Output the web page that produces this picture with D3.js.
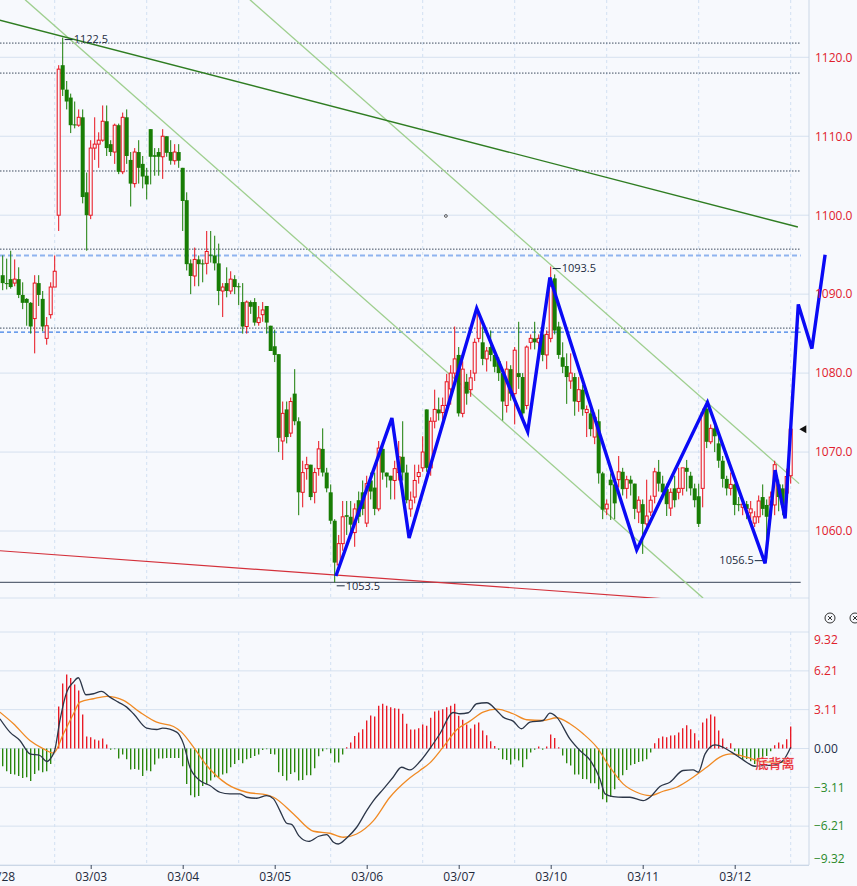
<!DOCTYPE html>
<html><head><meta charset="utf-8">
<script src="https://cdn.jsdelivr.net/npm/d3@7"></script>
<style>
body{margin:0;background:#f7f9fd;}
svg{display:block;font-family:"Open Sans",Roboto,sans-serif;}
</style>
</head><body>
<svg id="chart" width="857" height="886"></svg>
<script>
// ---------------- DATA ----------------
// candles: [open, high, low, close], one per bar index
const ohlc = [
[1092.4,1094.9,1090.5,1091.4],[1091.4,1094.5,1090.6,1091.3],[1091.9,1095.5,1090.7,1090.9],[1091.4,1094.4,1091.0,1091.9],
[1091.9,1093.4,1089.5,1089.9],[1089.9,1091.5,1088.1,1088.9],[1089.4,1089.5,1086.0,1088.9],[1088.9,1089.0,1085.0,1085.9],
[1086.9,1092.4,1082.5,1091.4],[1091.4,1092.4,1088.5,1089.9],[1089.4,1090.4,1085.3,1085.9],[1084.4,1087.1,1083.6,1086.0],
[1087.4,1091.5,1086.9,1090.9],[1090.9,1094.9,1090.9,1092.9],[1100.0,1119.0,1098.0,1118.5],[1119.0,1122.5,1115.1,1115.9],
[1115.9,1117.0,1113.4,1114.4],[1114.9,1115.4,1110.4,1111.4],[1111.5,1114.4,1111.0,1111.4],[1111.4,1113.4,1111.2,1112.4],
[1112.4,1113.4,1101.5,1102.3],[1102.9,1105.4,1095.5,1100.0],[1100.0,1109.5,1099.5,1108.5],[1108.5,1112.4,1107.0,1109.0],
[1109.0,1110.5,1106.0,1109.5],[1109.5,1113.9,1109.3,1111.9],[1111.9,1113.9,1107.5,1108.5],[1109.0,1109.5,1107.5,1108.0],
[1108.0,1111.6,1106.5,1111.4],[1111.4,1111.6,1105.2,1105.5],[1105.5,1113.0,1105.2,1112.4],[1112.4,1113.4,1106.5,1107.5],
[1107.0,1108.0,1101.1,1104.0],[1104.0,1108.5,1103.5,1108.0],[1108.0,1109.5,1104.0,1106.0],[1106.5,1107.5,1103.4,1104.9],
[1105.0,1106.0,1102.0,1103.9],[1110.9,1110.9,1103.9,1107.4],[1107.6,1108.5,1105.0,1107.4],[1108.0,1108.5,1105.0,1107.4],
[1107.4,1110.9,1104.6,1110.0],[1110.0,1110.0,1107.4,1107.9],[1108.0,1109.5,1106.4,1106.9],[1106.9,1109.0,1106.4,1108.0],
[1108.0,1109.0,1106.0,1106.9],[1106.0,1106.0,1098.0,1101.8],[1101.9,1102.9,1093.0,1093.8],[1093.9,1094.4,1090.0,1092.3],
[1092.3,1095.9,1091.0,1094.4],[1094.4,1094.9,1091.0,1093.8],[1093.9,1094.4,1091.5,1093.8],[1093.9,1098.0,1092.5,1095.4],
[1095.0,1098.0,1094.0,1094.9],[1094.9,1097.4,1093.0,1093.9],[1093.9,1096.4,1088.6,1090.4],[1090.4,1091.4,1087.1,1090.9],
[1091.4,1093.4,1089.6,1090.4],[1090.4,1092.9,1090.0,1091.9],[1091.9,1092.4,1090.0,1090.9],[1091.0,1091.4,1088.6,1090.9],
[1089.0,1091.4,1085.0,1085.9],[1085.9,1089.2,1085.0,1089.0],[1089.0,1089.2,1087.5,1088.4],[1089.0,1089.5,1086.0,1086.4],
[1086.4,1088.5,1086.0,1087.0],[1087.4,1089.0,1086.5,1088.0],[1088.5,1088.5,1085.0,1086.4],[1086.0,1086.0,1082.8,1082.8],
[1083.4,1085.5,1081.4,1082.3],[1082.4,1082.4,1070.0,1071.8],[1071.4,1076.4,1069.0,1074.9],[1075.4,1076.4,1071.1,1071.9],
[1072.4,1076.9,1071.9,1076.4],[1077.4,1080.5,1073.4,1073.9],[1073.9,1074.4,1062.0,1064.9],[1064.9,1068.9,1063.0,1067.4],
[1067.9,1069.4,1066.5,1068.4],[1068.4,1068.4,1063.9,1064.3],[1064.9,1068.0,1063.5,1067.4],[1067.9,1071.4,1067.0,1070.4],
[1070.4,1073.0,1066.9,1067.4],[1067.4,1068.0,1064.9,1065.4],[1064.9,1065.9,1060.9,1061.3],[1061.3,1061.5,1053.5,1056.0],
[1055.7,1059.5,1055.0,1058.4],[1058.4,1063.8,1057.5,1061.8],[1062.0,1063.8,1059.5,1061.8],[1061.8,1063.8,1059.0,1060.8],
[1059.8,1063.5,1058.0,1062.8],[1063.9,1065.0,1061.0,1061.8],[1064.9,1066.4,1062.0,1062.8],[1061.0,1067.0,1060.5,1066.0],
[1066.4,1067.4,1064.0,1065.0],[1065.5,1067.4,1062.0,1062.8],[1062.8,1071.4,1062.5,1070.5],[1070.4,1071.4,1066.5,1067.4],
[1067.4,1067.4,1065.5,1066.9],[1067.0,1067.0,1064.0,1066.4],[1066.4,1068.9,1064.0,1067.9],[1067.4,1071.4,1066.4,1069.4],
[1069.4,1073.9,1066.4,1067.4],[1067.4,1068.4,1063.5,1063.9],[1062.8,1065.0,1061.8,1063.9],[1064.3,1068.4,1063.5,1066.4],
[1066.9,1068.4,1066.0,1067.4],[1068.0,1072.0,1067.5,1070.0],[1075.4,1075.4,1067.5,1068.0],[1068.0,1074.4,1067.0,1073.9],
[1073.9,1077.9,1073.0,1075.4],[1075.4,1076.9,1074.0,1074.9],[1075.0,1076.9,1073.9,1075.9],[1075.9,1079.9,1075.4,1078.9],
[1078.0,1081.0,1076.0,1080.0],[1080.0,1085.9,1079.0,1081.8],[1082.3,1083.3,1074.5,1074.9],[1074.9,1081.5,1074.4,1080.5],
[1078.9,1079.9,1076.0,1077.4],[1077.9,1080.4,1077.0,1079.4],[1080.0,1084.4,1079.0,1083.9],[1084.4,1087.4,1083.9,1087.4],
[1083.9,1085.9,1081.0,1081.8],[1081.8,1083.3,1080.2,1082.8],[1083.3,1085.4,1081.5,1082.3],[1082.3,1082.3,1080.1,1080.8],
[1081.5,1082.0,1079.0,1080.0],[1080.0,1080.5,1074.0,1076.4],[1075.9,1081.5,1075.0,1080.5],[1080.5,1081.0,1076.5,1077.4],
[1077.4,1083.3,1073.5,1082.9],[1080.0,1086.5,1078.0,1079.5],[1079.5,1080.0,1073.9,1074.9],[1075.9,1083.5,1075.4,1083.3],
[1083.9,1084.9,1083.0,1084.4],[1084.4,1086.5,1083.0,1083.9],[1083.9,1084.9,1082.5,1084.4],[1084.9,1085.9,1081.5,1082.3],
[1082.3,1085.4,1080.5,1084.9],[1084.4,1093.5,1083.9,1091.0],[1092.0,1092.5,1084.9,1085.4],[1085.9,1086.5,1081.8,1082.3],
[1082.0,1083.9,1080.0,1080.8],[1080.9,1082.5,1076.1,1079.5],[1079.0,1082.5,1078.0,1080.0],[1079.5,1080.0,1074.6,1076.4],
[1076.4,1079.5,1075.1,1077.9],[1077.9,1078.5,1074.6,1075.4],[1075.0,1075.9,1071.9,1075.4],[1074.9,1075.4,1072.0,1072.9],
[1071.9,1075.0,1071.0,1074.4],[1073.9,1075.4,1066.0,1067.3],[1067.3,1067.5,1061.5,1062.7],[1062.8,1064.0,1062.0,1063.4],
[1066.5,1067.3,1061.4,1065.8],[1065.9,1066.5,1061.5,1063.5],[1066.5,1069.5,1065.5,1067.5],[1067.5,1068.0,1064.5,1065.3],
[1065.4,1067.0,1064.1,1066.5],[1066.5,1067.0,1064.5,1066.0],[1066.0,1066.0,1061.5,1062.8],[1062.4,1064.4,1061.0,1063.9],
[1063.4,1064.0,1057.1,1060.9],[1060.9,1066.5,1060.0,1061.9],[1062.4,1064.5,1061.9,1063.9],[1064.4,1068.0,1063.5,1067.5],
[1067.5,1069.0,1065.0,1066.0],[1066.0,1067.0,1064.0,1064.9],[1065.3,1066.0,1061.9,1063.4],[1062.9,1065.4,1061.9,1064.9],
[1065.4,1067.0,1063.0,1063.9],[1064.9,1068.0,1064.0,1065.4],[1065.4,1068.0,1064.5,1068.0],[1068.0,1069.0,1065.0,1067.5],
[1067.0,1067.5,1064.5,1065.4],[1065.4,1066.0,1063.0,1063.9],[1064.4,1066.0,1060.5,1060.9],[1065.4,1075.5,1063.0,1075.0],
[1075.5,1076.5,1070.5,1071.3],[1071.3,1073.5,1071.0,1073.0],[1073.0,1073.5,1070.0,1072.0],[1071.1,1072.1,1068.0,1068.9],
[1068.9,1069.5,1065.5,1066.6],[1066.6,1067.0,1064.5,1065.4],[1065.4,1067.4,1064.5,1065.9],[1065.9,1066.0,1062.0,1063.3],
[1063.4,1064.3,1062.5,1063.3],[1063.0,1064.0,1062.0,1063.4],[1063.4,1063.8,1061.5,1062.8],[1062.3,1063.8,1061.5,1062.8],
[1061.0,1062.5,1060.5,1061.8],[1061.8,1064.5,1061.0,1063.8],[1064.3,1065.9,1062.0,1062.8],[1063.3,1064.0,1056.5,1061.8],
[1063.3,1065.0,1061.5,1064.3],[1063.3,1068.9,1062.0,1068.4],[1065.9,1066.5,1062.5,1064.3],[1065.4,1065.9,1062.0,1063.3],
[1064.8,1067.9,1063.5,1066.9],[1067.0,1073.0,1066.0,1072.9]
];

// MACD histogram, one per bar
const macdHist = [
-1.42,-1.82,-2.03,-2.08,-2.2,-2.35,-2.3,-2.6,-2.03,-1.76,-1.9,-1.82,-1.23,
0.05,
3.37,5.2,5.93,5.64,5.13,4.65,2.72,0.96,0.91,0.72,0.64,0.8,0.32,
-0.1,-0.05,-0.8,-0.48,-0.85,-1.68,-1.63,-1.7,-2.19,-1.76,-1.82,-1.28,-0.8,-0.8,-0.75,-0.75,-0.75,-0.75,-1.42,
-2.83,-3.74,-3.9,-3.79,-2.99,-2.83,-2.56,-2.3,-2.3,-2.08,-1.98,-1.5,-1.23,-0.91,-1.18,-0.85,-0.75,-0.59,-0.48,-0.11,-0.05,
-0.43,-0.48,-1.9,-2.2,-2.56,-2.03,-1.9,-2.56,-2.51,-2.14,-2.14,-1.58,-0.61,-0.21,-0.05,-0.37,-1.12,-1.12,-0.48,
0.1,0.48,1.01,1.28,1.55,2.24,2.64,2.56,3.42,3.58,3.42,3.31,3.23,3.18,2.78,1.98,1.52,1.52,1.63,1.92,1.82,
2.46,2.96,3.04,3.15,3.31,3.42,3.58,2.62,2.3,1.92,1.6,1.92,2.08,1.44,1.07,0.59,0.21,
-0.1,-0.85,-0.91,-1.28,-0.85,-0.96,-1.5,-0.85,-0.32,-0.1,
0.16,-0.1,0.16,1.12,0.85,0.1,
-0.56,-1.18,-1.36,-2.08,-2.08,-2.43,-2.46,-2.78,-2.78,-3.26,-4.06,-4.3,-3.85,-3.26,-2.51,-2.14,-1.71,-1.34,-1.23,-1.07,-1.01,-0.85,-0.32,
0.43,0.83,0.96,0.91,1.04,1.07,1.28,1.63,1.87,1.55,1.23,0.64,2.08,2.4,2.72,2.56,1.44,0.8,0.1,0.43,
-0.21,-0.59,-0.85,-0.83,-1.01,-1.23,-1.01,-0.75,-0.59,-0.21,
0.27,0.48,0.32,0.75,1.76
];

// DIF line, read at [bar index, value]
const difPts = [[-0.7,2.38],[1.8,1.31],[4.3,0.64],[6.8,-0.43],[9.3,-0.56],[11,-1.04],[12.2,-0.69],[13,-0.16],[14.3,2.24],[16,4.51],[17.7,5.32],[18.9,5.66],[20.8,4.3],[22.7,4.38],[24.7,4.57],[26.8,4.11],[28.9,3.71],[31,3.31],[32.7,2.78],[36,1.63],[38.5,1.52],[40,1.63],[43.5,1.31],[45.2,0.37],[46.8,-1.5],[49.3,-2.56],[51.8,-2.96],[54.3,-3.5],[56.8,-3.63],[59.3,-3.63],[61,-3.9],[63.5,-3.98],[66,-3.77],[67.7,-4.03],[69.3,-4.97],[71,-5.98],[72.3,-6.09],[74,-6.97],[76.5,-7.43],[79,-7.02],[81,-6.89],[82.7,-7.5],[83.9,-7.64],[86,-7.16],[88.5,-6.3],[91,-4.97],[92.7,-4.17],[95.2,-3.23],[97.6,-2.3],[99.7,-1.5],[101.8,-1.71],[104.3,-1.04],[106.8,0.0],[109.3,1.18],[112.6,2.88],[114.3,2.78],[116.4,2.86],[118.5,3.58],[121,3.66],[123.5,3.04],[125.1,2.51],[127.6,2.19],[129.7,1.58],[131.8,2.11],[135.1,2.24],[136.8,2.83],[138.5,2.51],[141.8,0.77],[144.3,-0.16],[146.8,-0.91],[149.3,-2.43],[150.6,-3.63],[152.6,-3.85],[155.1,-3.9],[156.8,-3.9],[160.1,-4.17],[161.8,-3.9],[164.3,-3.04],[166.8,-2.7],[170.1,-1.76],[172.6,-1.71],[173.9,-1.9],[175.6,-0.43],[178.1,0.29],[180.1,0.1],[182.2,-0.29],[185.1,-0.91],[188.1,-1.42],[190.1,-1.36],[192.6,-1.34],[195.1,-0.96],[197,0.1]];

// DEA line, read at [bar index, value]
const deaPts = [[-0.7,2.91],[2.7,1.98],[6.8,0.64],[10.2,-0.03],[12.7,-0.37],[15.2,1.18],[17.7,2.78],[19.3,3.71],[22.7,3.98],[26,4.17],[30.2,3.85],[34.3,2.91],[38.5,2.11],[42.7,1.76],[44.7,1.31],[47.7,0.11],[51,-1.36],[56,-2.83],[61,-3.5],[66,-3.71],[67.7,-3.9],[72.7,-5.24],[77.7,-6.62],[81.8,-6.78],[85.2,-7.1],[88.5,-6.84],[92.7,-5.77],[96.8,-3.9],[101,-2.56],[104.3,-1.76],[106.8,-1.15],[110.1,0.11],[113.5,1.5],[116.8,2.19],[120.1,2.91],[123.5,3.15],[127.6,2.78],[131,2.3],[135.1,2.24],[138.5,2.46],[141.8,1.98],[145.1,1.18],[148.5,0.11],[151.8,-1.5],[155.1,-2.83],[158.5,-3.5],[161.8,-3.77],[165.1,-3.42],[168.5,-3.1],[172.6,-2.3],[176,-1.5],[179.3,-0.69],[182.2,-0.43],[186,-0.69],[190.1,-1.07],[194.3,-1.1],[197,-0.96]];

// blue zig-zag wave, [bar index, price]
const zigzag = [[83.3,1054.3],[97.3,1074.3],[101.6,1059.1],[118.5,1088.2],[131.25,1072.6],[136.8,1092.1],[158.5,1057.6],[176.2,1076.3],[190.6,1055.9],[193.1,1067.7],[195.6,1061.6],[198.9,1088.7],[202.3,1083.1],[205.6,1095.0]];

const priceTicks = [1060,1070,1080,1090,1100,1110,1120];
const macdTicks = [9.32,6.21,3.11,0,-3.11,-6.21,-9.32];
const dateLabels = ["02/28","03/03","03/04","03/05","03/06","03/07","03/10","03/11","03/12"];
const dateTickIdx = [-1,22,45,68,91,114,137,160,183];
const sessionIdx = [13,36,59,82,105,128,151,174,197];

const dottedLevels = [1121.8,1118.0,1105.6,1095.7,1085.7];
const blueLevels = [1094.9,1085.2];
const supportLevel = 1053.5;

// trend lines: [startIndex, startPrice, endIndex, endPrice]
const trendDark = [[-0.7,1124.7,198.8,1098.5]];
const trendLight = [[5.6,1127.3,175.1,1051.5],[61.8,1127.3,199.1,1066.0]];
const trendRed = [[-0.7,1057.5,165.6,1051.4]];

// price marks: [index, price, label, side]
const priceMarks = [[15,1122.5,"1122.5","high"],[137,1093.5,"1093.5","high"],[83,1053.5,"1053.5","low"],[191,1056.5,"1056.5","lowLeft"]];
const signalText = {idx:190.6, value:-1.2, text:"底背离"};

// ---------------- DRAW ----------------
const W = 857, H = 886;
const BG = "#f7f9fd";
const RED = "#e8101c", GREEN = "#187d05";
const svg = d3.select("#chart");
svg.append("rect").attr("width",W).attr("height",H).attr("fill",BG);

const x = d3.scaleLinear().domain([0,197]).range([2.7,790.7]);
const y = d3.scaleLinear().domain([1060,1120]).range([531,57.3]);
const my = d3.scaleLinear().domain([-9.32,9.32]).range([865,632]);
const AX = 809, MAIN_B = 598, M_T = 632, M_B = 865;
const lvlEnd = x(199.5);

// grids
const grid = svg.append("g");
grid.selectAll(".hg").data(priceTicks).join("line")
  .attr("x1",0).attr("x2",AX).attr("y1",d=>y(d)).attr("y2",d=>y(d))
  .attr("stroke","#d6e1ef").attr("stroke-width",1);
grid.selectAll(".mg").data(macdTicks.slice(1).concat([9.32])).join("line")
  .attr("x1",0).attr("x2",AX).attr("y1",d=>my(d)).attr("y2",d=>my(d))
  .attr("stroke","#d6e1ef").attr("stroke-width",1);
grid.selectAll(".vg").data(sessionIdx).join("line")
  .attr("x1",d=>x(d)).attr("x2",d=>x(d)).attr("y1",0).attr("y2",MAIN_B)
  .attr("stroke","#d2e0f2").attr("stroke-dasharray","3,3");
grid.selectAll(".vg2").data(sessionIdx).join("line")
  .attr("x1",d=>x(d)).attr("x2",d=>x(d)).attr("y1",M_T).attr("y2",M_B)
  .attr("stroke","#d2e0f2").attr("stroke-dasharray","3,3");
svg.append("line").attr("x1",0).attr("x2",AX).attr("y1",MAIN_B).attr("y2",MAIN_B).attr("stroke","#d6e1ef");
svg.append("line").attr("x1",AX).attr("x2",AX).attr("y1",0).attr("y2",M_B).attr("stroke","#cbd7e6");

// clip for main panel
svg.append("clipPath").attr("id","mainClip").append("rect").attr("x",0).attr("y",0).attr("width",AX).attr("height",MAIN_B);
const main = svg.append("g").attr("clip-path","url(#mainClip)");

// horizontal levels
main.selectAll(".dl").data(dottedLevels).join("line")
  .attr("x1",0).attr("x2",lvlEnd).attr("y1",d=>y(d)).attr("y2",d=>y(d))
  .attr("stroke","#3d4a5e").attr("stroke-width",1).attr("stroke-dasharray","1.5,1.5");
main.selectAll(".bl").data(blueLevels).join("line")
  .attr("x1",0).attr("x2",lvlEnd).attr("y1",d=>y(d)).attr("y2",d=>y(d))
  .attr("stroke",(d,i)=>i===0?"#8fb4ef":"#3d7fe6").attr("stroke-width",(d,i)=>i===0?2:1.3)
  .attr("stroke-dasharray",(d,i)=>i===0?"5,3":"4,3");
main.append("line").attr("x1",0).attr("x2",lvlEnd).attr("y1",y(supportLevel)).attr("y2",y(supportLevel))
  .attr("stroke","#5d6777").attr("stroke-width",1.3);

// trend lines
function tl(data, color, w){
  main.selectAll(null).data(data).join("line")
   .attr("x1",d=>x(d[0])).attr("y1",d=>y(d[1])).attr("x2",d=>x(d[2])).attr("y2",d=>y(d[3]))
   .attr("stroke",color).attr("stroke-width",w);
}
tl(trendLight,"#9fcf8f",1.3);
tl(trendDark,"#2f7d22",1.4);
tl(trendRed,"#d4313b",1.2);

// candles
const cg = main.append("g");
ohlc.forEach((d,i)=>{
  const [o,h,l,c] = d;
  const up = c >= o;
  const col = up ? RED : GREEN;
  const cx = x(i);
  const top = y(Math.max(o,c)), bot = y(Math.min(o,c));
  if (up) {
    cg.append("line").attr("x1",cx).attr("x2",cx).attr("y1",y(h)).attr("y2",top).attr("stroke",col).attr("stroke-width",1);
    cg.append("line").attr("x1",cx).attr("x2",cx).attr("y1",bot).attr("y2",y(l)).attr("stroke",col).attr("stroke-width",1);
    cg.append("rect").attr("x",cx-1.5).attr("y",top).attr("width",3).attr("height",Math.max(bot-top,0.8))
      .attr("fill",BG).attr("stroke",col).attr("stroke-width",1);
  } else {
    cg.append("line").attr("x1",cx).attr("x2",cx).attr("y1",y(h)).attr("y2",y(l)).attr("stroke",col).attr("stroke-width",1);
    cg.append("rect").attr("x",cx-2).attr("y",top).attr("width",4).attr("height",Math.max(bot-top,1))
      .attr("fill",col);
  }
});

// small marker
svg.append("circle").attr("cx",x(110.8)).attr("cy",y(1099.9)).attr("r",1.4).attr("fill","none").attr("stroke","#333").attr("stroke-width",0.8);

// price marks
const pm = svg.append("g").attr("font-size",11).attr("fill","#1c2b3d");
priceMarks.forEach(([i,p,t,side])=>{
  const cx = x(i), py = y(p);
  if (side==="lowLeft") {
    pm.append("line").attr("x1",cx-12).attr("x2",cx-2).attr("y1",py+2).attr("y2",py+2).attr("stroke","#1c2b3d");
    pm.append("text").attr("x",cx-13).attr("y",py+2).attr("dy","0.35em").attr("text-anchor","end").text(t);
  } else {
    const off = side==="high" ? 2 : 3.5;
    pm.append("line").attr("x1",cx+2).attr("x2",cx+10).attr("y1",py+off).attr("y2",py+off).attr("stroke","#1c2b3d");
    pm.append("text").attr("x",cx+11).attr("y",py+off).attr("dy","0.35em").text(t);
  }
});

// zigzag
const zline = d3.line().x(d=>x(d[0])).y(d=>y(d[1]));
svg.append("path").attr("d",zline(zigzag)).attr("fill","none").attr("stroke","#0a0af5")
  .attr("stroke-width",3.4).attr("stroke-linejoin","miter");

// current price marker
const last = ohlc[ohlc.length-1][3];
svg.append("path").attr("d",d3.symbol().type(d3.symbolTriangle).size(28)())
  .attr("transform",`translate(${AX-5},${y(last)}) rotate(-90)`).attr("fill","#111");

// price axis
const pax = svg.append("g").attr("transform",`translate(${AX},0)`)
  .call(d3.axisRight(y).tickValues(priceTicks).tickFormat(d3.format(".1f")).tickSize(0).tickPadding(6));
pax.select(".domain").remove();
pax.selectAll("text").attr("fill","#e0202c").attr("font-size",12).attr("font-family","'Open Sans',sans-serif");

// MACD histogram
const mg = svg.append("g");
mg.selectAll("line").data(macdHist).join("line")
  .attr("x1",(d,i)=>x(i)).attr("x2",(d,i)=>x(i))
  .attr("y1",my(0)).attr("y2",d=>my(d))
  .attr("stroke",d=>d>=0?RED:"#1f8000").attr("stroke-width",1.3);

const ml = d3.line().x(d=>x(d[0])).y(d=>my(d[1])).curve(d3.curveMonotoneX);
svg.append("path").attr("d",ml(deaPts)).attr("fill","none").attr("stroke","#f08a24").attr("stroke-width",1.3);
svg.append("path").attr("d",ml(difPts)).attr("fill","none").attr("stroke","#2c3648").attr("stroke-width",1.3);

// MACD axis
const max = svg.append("g").attr("transform",`translate(${AX},0)`)
  .call(d3.axisRight(my).tickValues(macdTicks).tickFormat(d3.format(".2f")).tickSize(0).tickPadding(5));
max.select(".domain").remove();
max.selectAll("text").attr("font-size",12).attr("font-family","'Open Sans',sans-serif")
  .attr("fill",d=>d>0?"#e0202c":(d<0?"#2a8a2a":"#1e2d4a"))
  .attr("dy",d=>d===9.32?"0.95em":(d===-9.32?"-0.25em":"0.32em"));

// signal text
svg.append("text").attr("x",x(signalText.idx)+10).attr("y",my(signalText.value)).attr("dy","0.35em")
  .attr("text-anchor","middle").attr("font-family","'Noto Sans CJK SC',sans-serif").attr("font-size",13)
  .attr("fill","#e8262d").attr("stroke","#f6b8bf").attr("stroke-width",0.6).attr("paint-order","stroke")
  .text(signalText.text);

// date axis
const xax = svg.append("g").attr("transform",`translate(0,${M_B})`)
  .call(d3.axisBottom(x).tickValues(dateTickIdx).tickFormat((d,i)=>dateLabels[i]).tickSize(4).tickPadding(3));
xax.select(".domain").attr("stroke","#cbd7e6").attr("d",`M0,0.5H${AX}`);
xax.selectAll(".tick line").attr("stroke","#3a4658");
xax.selectAll("text").attr("font-size",12).attr("fill","#1e2a3c").attr("font-family","'Open Sans',sans-serif");

// panel icons
[830,855].forEach(cx=>{
  const g = svg.append("g").attr("transform",`translate(${cx},618)`);
  g.append("circle").attr("r",5).attr("fill","none").attr("stroke","#333").attr("stroke-width",1);
  g.append("path").attr("d","M-2,-2L2,2M2,-2L-2,2").attr("stroke","#333").attr("stroke-width",1);
});
</script>
</body></html>
